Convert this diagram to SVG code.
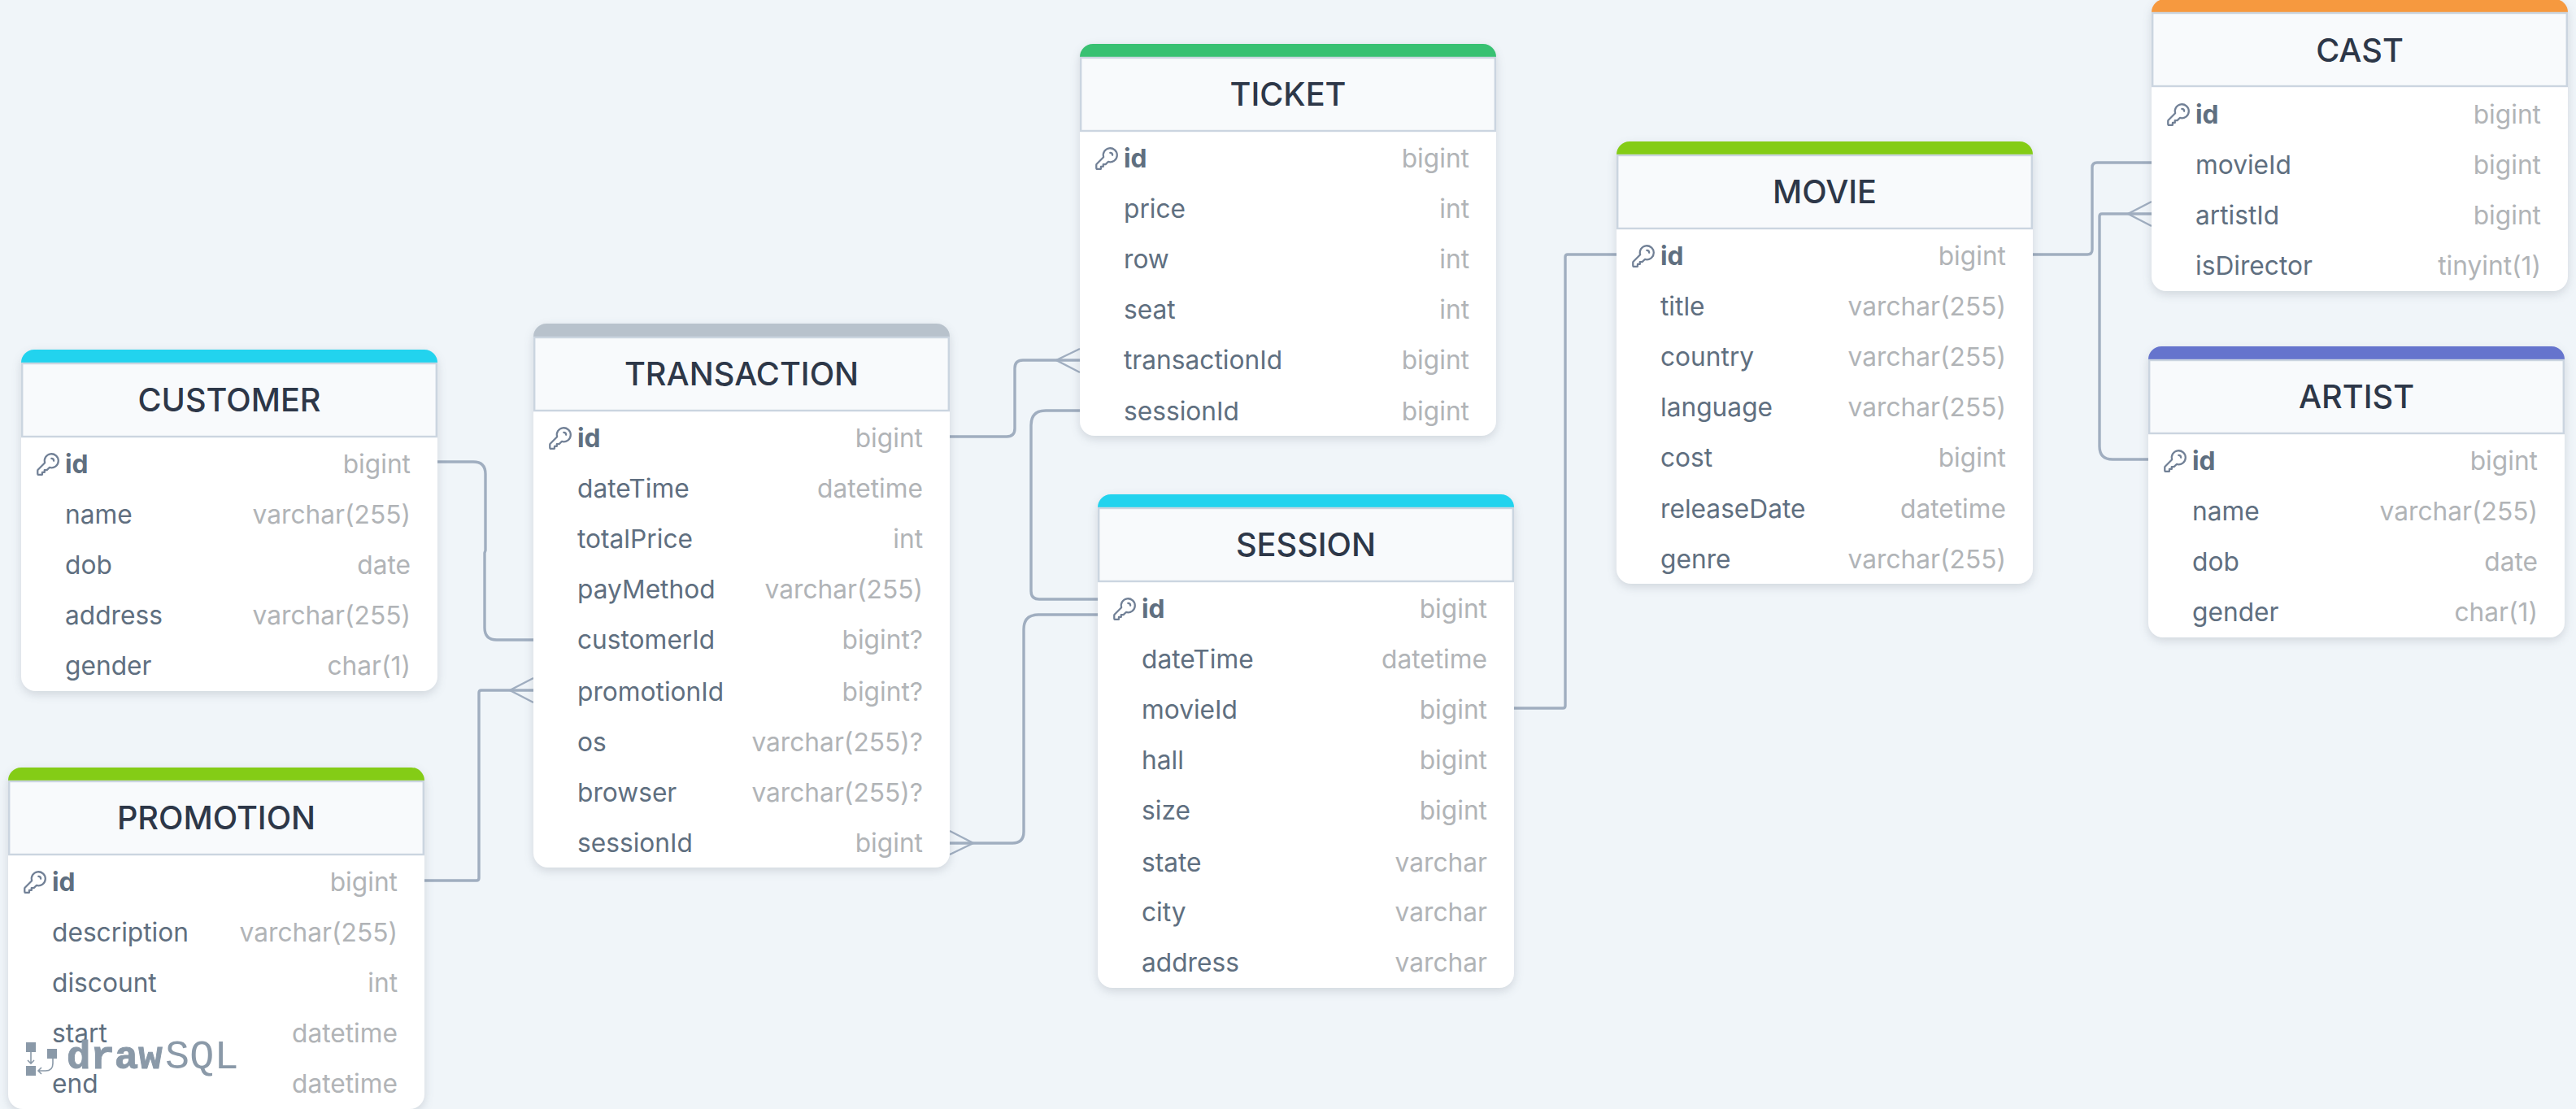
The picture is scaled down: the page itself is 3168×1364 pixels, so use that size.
<svg xmlns="http://www.w3.org/2000/svg" width="3168" height="1364" viewBox="0 0 3168 1364">
<style>
text{font-family:"Inter","Noto Sans","Liberation Sans",sans-serif}
.body{fill:#fff;filter:drop-shadow(0 4px 6px rgba(45,55,72,.16))}
.head{fill:#f8fafc;stroke:#cbd5e0;stroke-width:2.4}
.title{font-size:39.7px;font-weight:500;fill:#2d3748;text-anchor:middle}
.f{font-size:31.7px;fill:#5f6f80}
.pk{font-weight:700}
.t{font-size:31.7px;fill:#b1b4b7;text-anchor:end}
.conn{fill:none;stroke:#a0aec0;stroke-width:3.4}
.foot{fill:none;stroke:#a0aec0;stroke-width:2.4}
.logo{font-family:"Liberation Mono",monospace;font-size:49px;fill:#8a99a8}
</style>
<defs>
<path id="key" transform="translate(-17,-17) scale(1.42)" fill="none" stroke="#718096" stroke-width="1.6" stroke-linecap="round" stroke-linejoin="round" d="M15 7a2 2 0 012 2m4 0a6 6 0 01-7.743 5.743L11 17H9v2H7v2H4a1 1 0 01-1-1v-2.586a1 1 0 01.293-.707l5.964-5.964A6 6 0 1121 9z"/>
</defs>
<rect width="3168" height="1364" fill="#f0f5f9"/>
<g id="connectors">
<path class="conn" d="M538 568H582Q597 568 597 583V677L596 680V772Q596 787 611 787H656"/>
<path class="conn" d="M521 1083H586Q589 1083 589 1080V852Q589 849 592 849H656"/>
<path class="foot" d="M656 834L627 849L656 864"/>
<path class="conn" d="M1168 537H1238Q1248 537 1248 527V453Q1248 443 1258 443H1328"/>
<path class="foot" d="M1328 429L1299 443L1328 458"/>
<path class="conn" d="M1328 505H1286Q1268 505 1268 523V727Q1268 737 1278 737H1350"/>
<path class="conn" d="M1350 756H1277Q1259 756 1259 774V1023Q1259 1037 1245 1037H1168"/>
<path class="foot" d="M1168 1022L1197 1037L1168 1051"/>
<path class="conn" d="M1862 871H1922Q1925 871 1925 868V316Q1925 313 1928 313H1988"/>
<path class="conn" d="M2500 313H2567Q2573 313 2573 307V206Q2573 200 2579 200H2646"/>
<path class="conn" d="M2642 565H2598Q2582 565 2582 549V266Q2582 263 2585 263H2646"/>
<path class="foot" d="M2646 248L2617 263L2646 278"/>
</g>
<g id="customer" transform="translate(26,430)">
<rect class="body" width="512" height="420" rx="18"/>
<path fill="#22d3ee" d="M0 17V16A16 16 0 0116 0H496A16 16 0 01512 16V17Z"/>
<rect class="head" x="1.2" y="17" width="509.6" height="90"/>
<text class="title" x="256" y="76">CUSTOMER</text>
<use href="#key" x="33" y="141"/>
<text class="f pk" x="54" y="152">id</text><text class="t" x="479" y="152">bigint</text>
<text class="f" x="54" y="214">name</text><text class="t" x="479" y="214">varchar(255)</text>
<text class="f" x="54" y="276">dob</text><text class="t" x="479" y="276">date</text>
<text class="f" x="54" y="338">address</text><text class="t" x="479" y="338">varchar(255)</text>
<text class="f" x="54" y="400">gender</text><text class="t" x="479" y="400">char(1)</text>
</g>
<g id="promotion" transform="translate(10,944)">
<rect class="body" width="512" height="420" rx="18"/>
<path fill="#84cc16" d="M0 17V16A16 16 0 0116 0H496A16 16 0 01512 16V17Z"/>
<rect class="head" x="1.2" y="17" width="509.6" height="90"/>
<text class="title" x="256" y="76">PROMOTION</text>
<use href="#key" x="33" y="141"/>
<text class="f pk" x="54" y="152">id</text><text class="t" x="479" y="152">bigint</text>
<text class="f" x="54" y="214">description</text><text class="t" x="479" y="214">varchar(255)</text>
<text class="f" x="54" y="276">discount</text><text class="t" x="479" y="276">int</text>
<text class="f" x="54" y="338">start</text><text class="t" x="479" y="338">datetime</text>
<text class="f" x="54" y="400">end</text><text class="t" x="479" y="400">datetime</text>
</g>
<g id="transaction" transform="translate(656,398)">
<rect class="body" width="512" height="669" rx="18"/>
<path fill="#b8c2cc" d="M0 17V16A16 16 0 0116 0H496A16 16 0 01512 16V17Z"/>
<rect class="head" x="1.2" y="17" width="509.6" height="90"/>
<text class="title" x="256" y="76">TRANSACTION</text>
<use href="#key" x="33" y="141"/>
<text class="f pk" x="54" y="152">id</text><text class="t" x="479" y="152">bigint</text>
<text class="f" x="54" y="214">dateTime</text><text class="t" x="479" y="214">datetime</text>
<text class="f" x="54" y="276">totalPrice</text><text class="t" x="479" y="276">int</text>
<text class="f" x="54" y="338">payMethod</text><text class="t" x="479" y="338">varchar(255)</text>
<text class="f" x="54" y="400">customerId</text><text class="t" x="479" y="400">bigint?</text>
<text class="f" x="54" y="464">promotionId</text><text class="t" x="479" y="464">bigint?</text>
<text class="f" x="54" y="526">os</text><text class="t" x="479" y="526">varchar(255)?</text>
<text class="f" x="54" y="588">browser</text><text class="t" x="479" y="588">varchar(255)?</text>
<text class="f" x="54" y="650">sessionId</text><text class="t" x="479" y="650">bigint</text>
</g>
<g id="ticket" transform="translate(1328,54)">
<rect class="body" width="512" height="482" rx="18"/>
<path fill="#38c172" d="M0 17V16A16 16 0 0116 0H496A16 16 0 01512 16V17Z"/>
<rect class="head" x="1.2" y="17" width="509.6" height="90"/>
<text class="title" x="256" y="76">TICKET</text>
<use href="#key" x="33" y="141"/>
<text class="f pk" x="54" y="152">id</text><text class="t" x="479" y="152">bigint</text>
<text class="f" x="54" y="214">price</text><text class="t" x="479" y="214">int</text>
<text class="f" x="54" y="276">row</text><text class="t" x="479" y="276">int</text>
<text class="f" x="54" y="338">seat</text><text class="t" x="479" y="338">int</text>
<text class="f" x="54" y="400">transactionId</text><text class="t" x="479" y="400">bigint</text>
<text class="f" x="54" y="463">sessionId</text><text class="t" x="479" y="463">bigint</text>
</g>
<g id="session" transform="translate(1350,608)">
<rect class="body" width="512" height="607" rx="18"/>
<path fill="#22d3ee" d="M0 17V16A16 16 0 0116 0H496A16 16 0 01512 16V17Z"/>
<rect class="head" x="1.2" y="17" width="509.6" height="90"/>
<text class="title" x="256" y="76">SESSION</text>
<use href="#key" x="33" y="141"/>
<text class="f pk" x="54" y="152">id</text><text class="t" x="479" y="152">bigint</text>
<text class="f" x="54" y="214">dateTime</text><text class="t" x="479" y="214">datetime</text>
<text class="f" x="54" y="276">movieId</text><text class="t" x="479" y="276">bigint</text>
<text class="f" x="54" y="338">hall</text><text class="t" x="479" y="338">bigint</text>
<text class="f" x="54" y="400">size</text><text class="t" x="479" y="400">bigint</text>
<text class="f" x="54" y="464">state</text><text class="t" x="479" y="464">varchar</text>
<text class="f" x="54" y="525">city</text><text class="t" x="479" y="525">varchar</text>
<text class="f" x="54" y="587">address</text><text class="t" x="479" y="587">varchar</text>
</g>
<g id="movie" transform="translate(1988,174)">
<rect class="body" width="512" height="544" rx="18"/>
<path fill="#84cc16" d="M0 17V16A16 16 0 0116 0H496A16 16 0 01512 16V17Z"/>
<rect class="head" x="1.2" y="17" width="509.6" height="90"/>
<text class="title" x="256" y="76">MOVIE</text>
<use href="#key" x="33" y="141"/>
<text class="f pk" x="54" y="152">id</text><text class="t" x="479" y="152">bigint</text>
<text class="f" x="54" y="214">title</text><text class="t" x="479" y="214">varchar(255)</text>
<text class="f" x="54" y="276">country</text><text class="t" x="479" y="276">varchar(255)</text>
<text class="f" x="54" y="338">language</text><text class="t" x="479" y="338">varchar(255)</text>
<text class="f" x="54" y="400">cost</text><text class="t" x="479" y="400">bigint</text>
<text class="f" x="54" y="463">releaseDate</text><text class="t" x="479" y="463">datetime</text>
<text class="f" x="54" y="525">genre</text><text class="t" x="479" y="525">varchar(255)</text>
</g>
<g id="cast" transform="translate(2646,-1)">
<rect class="body" width="512" height="359" rx="18"/>
<path fill="#f6993f" d="M0 17V16A16 16 0 0116 0H496A16 16 0 01512 16V17Z"/>
<rect class="head" x="1.2" y="17" width="509.6" height="90"/>
<text class="title" x="256" y="77">CAST</text>
<use href="#key" x="33" y="142"/>
<text class="f pk" x="54" y="153">id</text><text class="t" x="479" y="153">bigint</text>
<text class="f" x="54" y="215">movieId</text><text class="t" x="479" y="215">bigint</text>
<text class="f" x="54" y="277">artistId</text><text class="t" x="479" y="277">bigint</text>
<text class="f" x="54" y="339">isDirector</text><text class="t" x="479" y="339">tinyint(1)</text>
</g>
<g id="artist" transform="translate(2642,426)">
<rect class="body" width="512" height="358" rx="18"/>
<path fill="#6574cd" d="M0 17V16A16 16 0 0116 0H496A16 16 0 01512 16V17Z"/>
<rect class="head" x="1.2" y="17" width="509.6" height="90"/>
<text class="title" x="256" y="76">ARTIST</text>
<use href="#key" x="33" y="141"/>
<text class="f pk" x="54" y="152">id</text><text class="t" x="479" y="152">bigint</text>
<text class="f" x="54" y="214">name</text><text class="t" x="479" y="214">varchar(255)</text>
<text class="f" x="54" y="276">dob</text><text class="t" x="479" y="276">date</text>
<text class="f" x="54" y="338">gender</text><text class="t" x="479" y="338">char(1)</text>
</g>
<g id="logo">
<rect x="32" y="1282" width="12" height="12" fill="#8a99a8"/>
<rect x="58" y="1290" width="12" height="12" fill="#8a99a8"/>
<rect x="32" y="1311" width="12" height="12" fill="#8a99a8"/>
<path fill="none" stroke="#8a99a8" stroke-width="1.6" d="M38 1294V1308M34 1304L38 1308L42 1304M65 1302V1308Q65 1317 56 1317H47M51 1313L47 1317L51 1321"/>
<text class="logo" x="82" y="1314" font-weight="700" stroke="#8a99a8" stroke-width="1">draw</text>
<text class="logo" x="203" y="1314" font-size="50" style="font-size:50px;letter-spacing:.2px">SQL</text>
</g>
</svg>
